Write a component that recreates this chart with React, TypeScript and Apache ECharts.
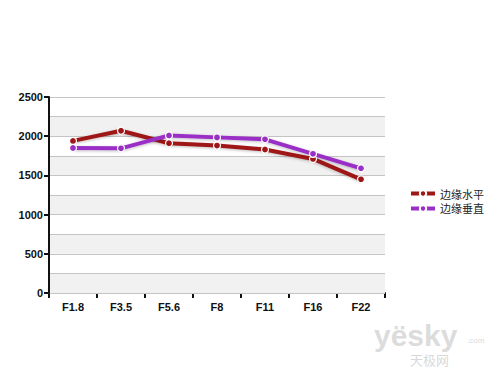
import React, { useEffect, useRef } from "react";
import * as echarts from "echarts";

const categories = ["F1.8", "F3.5", "F5.6", "F8", "F11", "F16", "F22"];
const horizontalEdge = [1940, 2070, 1910, 1880, 1830, 1710, 1450];
const verticalEdge = [1850, 1845, 2010, 1985, 1960, 1775, 1590];
const seriesNames = ["边缘水平", "边缘垂直"];
const colors = ["#9e1616", "#9a2fc6"];

export default function App() {
  const ref = useRef<HTMLDivElement>(null);
  useEffect(() => {
    if (!ref.current) return;
    const chart = echarts.init(ref.current, null, { renderer: "svg" });
    const font = "Arial, 'Liberation Sans', sans-serif";
    const mkSeries = (name: string, data: number[], color: string) => ({
      name,
      type: "line",
      data,
      yAxisIndex: 0,
      symbol: "circle",
      symbolSize: 7,
      lineStyle: { color, width: 4, shadowColor: "rgba(0,0,0,0.25)", shadowBlur: 3, shadowOffsetY: 1 },
      itemStyle: { color, borderColor: "#fff", borderWidth: 1.2 },
      z: 5,
    });
    chart.setOption({
      animation: false,
      backgroundColor: "#ffffff",
      grid: { left: 49, top: 97, width: 336, height: 196, containLabel: false },
      legend: {
        orient: "vertical",
        left: 404,
        top: 183,
        itemWidth: 24,
        itemHeight: 8,
        itemGap: 4,
        data: seriesNames,
        lineStyle: { width: 4, shadowBlur: 0 },
        textStyle: { fontSize: 11, color: "#222", fontFamily: "'Noto Sans CJK SC', sans-serif" },
      },
      xAxis: {
        type: "category",
        data: categories,
        boundaryGap: true,
        axisLine: { lineStyle: { color: "#111", width: 2 } },
        axisTick: { show: true, length: 5, lineStyle: { color: "#111", width: 2 } },
        axisLabel: { fontSize: 11, fontWeight: "bold", color: "#111", fontFamily: font, margin: 8 },
        splitLine: { show: false },
      },
      yAxis: [
        {
          type: "value",
          min: 0,
          max: 2500,
          interval: 500,
          axisLine: { show: true, lineStyle: { color: "#111", width: 2 } },
          axisTick: { show: true, length: 5, lineStyle: { color: "#111", width: 2 } },
          axisLabel: {
            fontSize: 11,
            fontWeight: "bold",
            color: "#111",
            fontFamily: font,
            margin: 6,
            formatter: (v: number) => String(v),
          },
          splitLine: { show: false },
          splitArea: { show: false },
          z: 3,
        },
        {
          type: "value",
          min: 0,
          max: 2500,
          interval: 250,
          position: "left",
          axisLine: { show: false },
          axisTick: { show: false },
          axisLabel: { show: false },
          splitLine: { show: true, lineStyle: { color: "#c4c4c4", width: 1 } },
          splitArea: { show: true, areaStyle: { color: ["#f1f1f1", "#ffffff"] } },
          z: 1,
        },
      ],
      series: [
        mkSeries(seriesNames[0], horizontalEdge, colors[0]),
        mkSeries(seriesNames[1], verticalEdge, colors[1]),
      ],
      graphic: [
        {
          type: "text",
          left: 374,
          top: 320,
          style: { text: "yësky", fontSize: 30, fontWeight: "bold", fill: "rgba(190,190,190,0.55)", fontFamily: font },
          z: 10,
        },
        {
          type: "text",
          left: 467,
          top: 336,
          style: { text: ".com", fontSize: 8, fill: "rgba(190,190,190,0.6)", fontFamily: font },
          z: 10,
        },
        {
          type: "text",
          left: 410,
          top: 353,
          style: { text: "天极网", fontSize: 13, fill: "rgba(190,190,190,0.6)", fontFamily: "'Noto Sans CJK SC', sans-serif" },
          z: 10,
        },
      ],
    });
    return () => chart.dispose();
  }, []);
  return (
    <div
      ref={ref}
      style={{ position: "fixed", left: 0, top: 0, width: 500, height: 375 }}
    />
  );
}
